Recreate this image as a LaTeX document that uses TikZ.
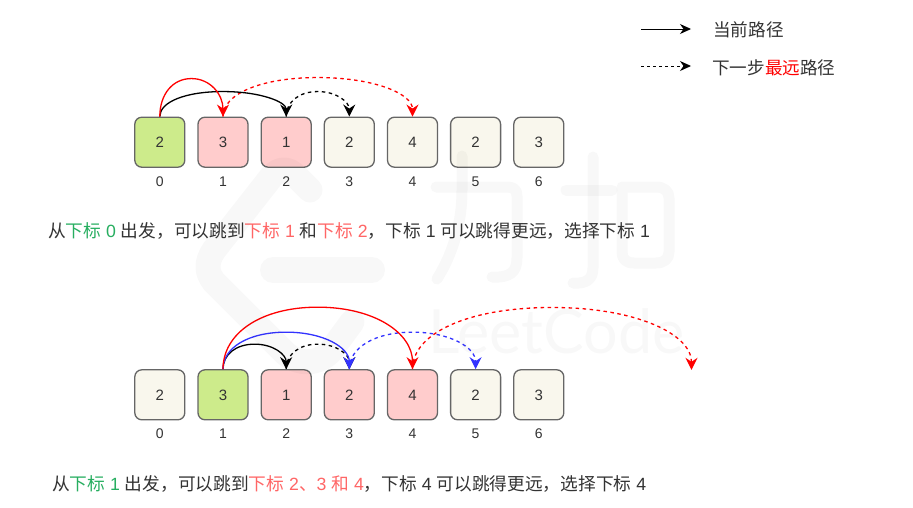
\documentclass[tikz,border=0pt]{standalone}
\usepackage{fontspec}
\setmainfont{Liberation Sans}
\newfontfamily\cjk{Noto Sans CJK SC}
\newfontfamily\wm{Lato}
\usetikzlibrary{arrows.meta,calc}
\definecolor{txt}{HTML}{333333}
\definecolor{gr}{HTML}{27AE60}
\definecolor{pk}{HTML}{FF6666}
\definecolor{bl}{HTML}{3333FF}
\definecolor{bgbeige}{HTML}{F9F7ED}
\definecolor{bglime}{HTML}{CDEB8B}
\definecolor{bgrose}{HTML}{FFCCCC}
\newcommand{\cj}[1]{{\cjk #1}}
\tikzset{
  x=1pt,y=-1pt,
  cell/.style={draw=black!60,line width=1.3pt,rounded corners=7pt,minimum width=50pt,minimum height=50pt,inner sep=0pt,font=\fontsize{15}{15}\selectfont,text=txt,text height=10.8pt,text depth=0pt},
  beige/.style={cell,fill=bgbeige},
  lime/.style={cell,fill=bglime},
  rose/.style={cell,fill=bgrose},
  idx/.style={font=\fontsize{14}{14}\selectfont,text=txt,inner sep=0pt,text height=10pt,text depth=0pt},
  captxt/.style={anchor=west,inner sep=0pt,text=txt,font=\fontsize{17.7}{17.7}\selectfont},
  legtxt/.style={captxt,font=\fontsize{17.6}{17.6}\selectfont\cjk},
  link/.style={line width=1.3pt,-{Stealth[length=12pt,width=12pt,inset=4pt]}},
  dash3/.style={link,dash pattern=on 3.5pt off 3.5pt},
  lg/.style={line width=1pt,-{Stealth[length=11pt,width=10pt,inset=3.5pt]}},
  wmark/.style={draw=black,draw opacity=0.026,line cap=round,line join=round},
}
\newcommand{\arcc}[4]{%
  \coordinate (s) at (#2.north);
  \coordinate (e) at #3;
  \path let \p1=(s), \p2=(e) in \pgfextra{\pgfmathsetmacro{\wv}{\x2-\x1}} coordinate (c1) at ($(s)+(0,-0.58*#4)$) coordinate (c2) at ($(s)!.5!(e)+({-0.30*\wv},-#4)$) coordinate (m) at ($(s)!.5!(e)+(0,-#4)$) coordinate (c3) at ($(s)!.5!(e)+({0.30*\wv},-#4)$) coordinate (c4) at ($(e)+(0,-0.58*#4)$);
  \draw[#1] (s) .. controls (c1) and (c2) .. (m) .. controls (c3) and (c4) .. (e);}
\begin{document}
\begin{tikzpicture}
\useasboundingbox (0,0) rectangle (913,507);
\fill[white] (0,0) rectangle (913,507);
% first row
\foreach \n/\xx/\v/\s in {0/159.8/2/lime,1/223/3/rose,2/286.2/1/rose,3/349.3/2/beige,4/412.5/4/beige,5/475.6/2/beige,6/538.8/3/beige}{
  \node[\s] (a\n) at (\xx,142.2) {\v};
  \node[idx] (ai\n) at (\xx,181) {\n};
}
% second row
\foreach \n/\xx/\v/\s in {0/159.8/2/beige,1/223/3/lime,2/286.2/1/rose,3/349.3/2/rose,4/412.5/4/rose,5/475.6/2/beige,6/538.8/3/beige}{
  \node[\s] (b\n) at (\xx,394.8) {\v};
  \node[idx] (bi\n) at (\xx,433.5) {\n};
}
\coordinate (far) at (691.5,369.8);
% row 1
\arcc{dash3,black}{a2}{(a3.north)}{25}
\arcc{dash3,red}{a1}{(a4.north)}{39}
\arcc{link,black}{a0}{(a2.north)}{25}
\arcc{link,red}{a0}{(a1.north)}{38}
% row 2
\arcc{dash3,black}{b2}{(b3.north)}{25}
\arcc{dash3,bl}{b3}{(b5.north)}{37}
\arcc{dash3,red}{b4}{(far)}{62}
\arcc{link,black}{b1}{(b2.north)}{25}
\arcc{link,bl}{b1}{(b3.north)}{37}
\arcc{link,red}{b1}{(b4.north)}{62}
% legend
\coordinate (l1a) at (641,29); \coordinate (l1b) at (691,29);
\coordinate (l2a) at (641,66); \coordinate (l2b) at (691,66);
\draw[lg] (l1a) -- (l1b);
\draw[lg,dash pattern=on 3pt off 3pt] (l2a) -- (l2b);
\node[legtxt] (t1) at (713,30) {当前路径};
\node[legtxt] (t2) at (712,67.5) {下一步\textcolor{red}{最远}路径};
% captions
\node[captxt] (c1t) at (48,231) {\cj{从}\textcolor{gr}{\cj{下标} 0} \cj{出发，可以跳到}\textcolor{pk}{\cj{下标} 1} \cj{和}\textcolor{pk}{\cj{下标} 2}\cj{，下标} 1 \cj{可以跳得更远，选择下标} 1};
\node[captxt] (c2t) at (52,484) {\cj{从}\textcolor{gr}{\cj{下标} 1} \cj{出发，可以跳到}\textcolor{pk}{\cj{下标} 2\cj{、}3 \cj{和} 4}\cj{，下标} 4 \cj{可以跳得更远，选择下标} 4};
% watermark, over everything
\draw[wmark,line width=25pt] (310,190) -- (296,176) .. controls (288,168) and (280,168) .. (272,176) -- (214,250) .. controls (206,262) and (206,272) .. (214,282) -- (284,352) .. controls (296,364) and (316,366) .. (330,352) -- (352,322);
\draw[wmark,line width=26pt] (273,270) -- (372,270);
\draw[wmark,line width=11pt] (436,187) -- (507,187) .. controls (514,187) and (517,190) .. (517,196) -- (517,258) .. controls (517,272) and (510,278) .. (492,277);
\draw[wmark,line width=11pt] (462,156) -- (462,190) .. controls (462,225) and (452,255) .. (437,279);
\draw[wmark,line width=11pt] (566,190) -- (612,190);
\draw[wmark,line width=11pt] (593,157) -- (593,268) .. controls (593,280) and (585,284) .. (573,283);
\draw[wmark,line width=11pt] (622,187) -- (656,187) .. controls (664,187) and (669,191) .. (669,198) -- (669,252) .. controls (669,259) and (664,263) .. (656,263) -- (634,263) .. controls (626,263) and (622,259) .. (622,252) -- cycle;
\node[anchor=base west,inner sep=0pt,text=black,text opacity=0.026,font=\fontsize{61}{61}\selectfont\wm] (lc) at (428,353) {LeetCode};
\end{tikzpicture}
\end{document}
